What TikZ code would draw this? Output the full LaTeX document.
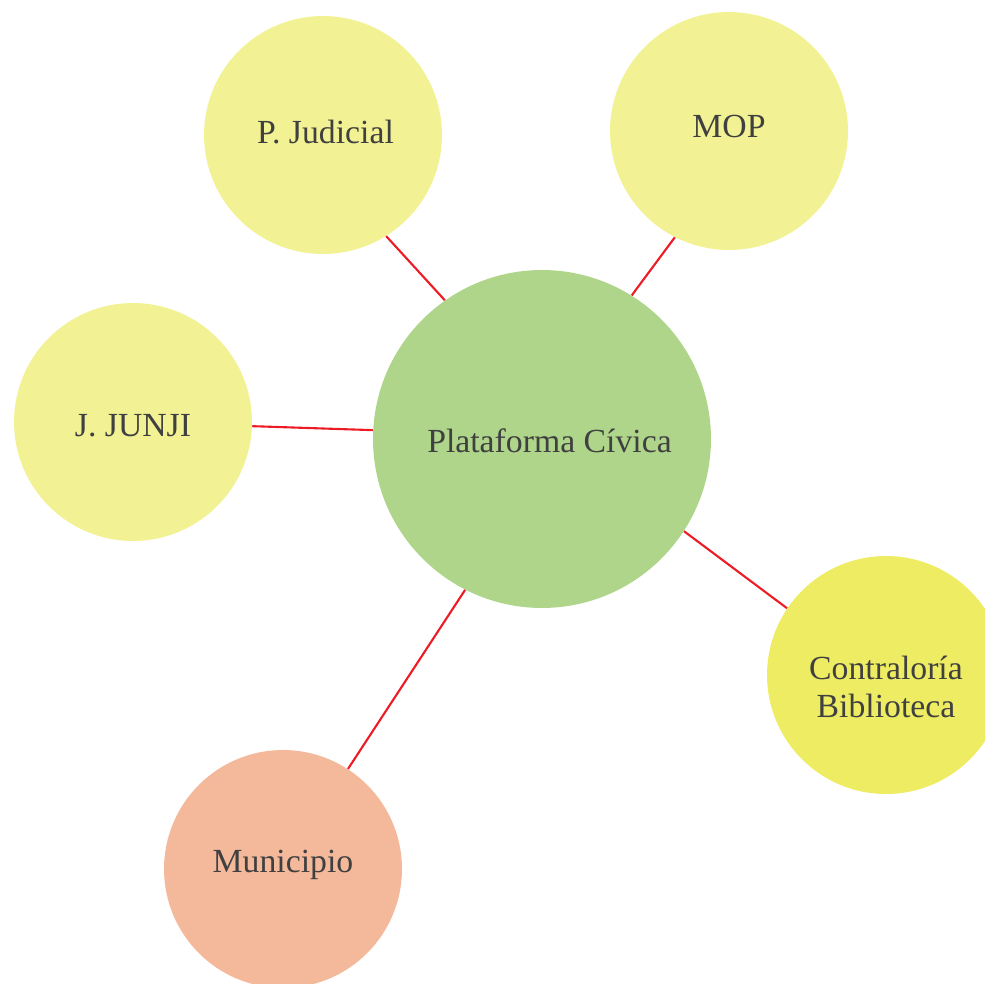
\documentclass[tikz,border=0pt]{standalone}
\usepackage{fontspec}
\setmainfont{Liberation Serif}
\usetikzlibrary{positioning}
\definecolor{paleyellow}{RGB}{242,242,148}
\definecolor{leaf}{RGB}{175,213,138}
\definecolor{lemon}{RGB}{237,236,98}
\definecolor{salmon}{RGB}{244,184,155}
\definecolor{ink}{RGB}{64,64,64}
\definecolor{wire}{RGB}{237,28,36}
\tikzset{
  bubble/.style={circle,fill=#1,minimum size=4.76cm,inner sep=0pt},
  bubble/.default=paleyellow,
  hub/.style={bubble=leaf,minimum size=6.76cm},
  caption/.style={align=center,text=ink,inner sep=0pt,
    font=\fontsize{19.2}{22}\selectfont},
  link/.style={draw=wire,line width=1.2pt},
}
\begin{document}
\begin{tikzpicture}[x=0.02cm,y=-0.02cm]
  \useasboundingbox (0,0) rectangle (985,984);
  \begin{scope}
    \clip (0,0) rectangle (985,984);
    \node[hub,label={[caption,xshift=0.15cm,yshift=-0.04cm]center:Plataforma Cívica}] (hub) at (542,439) {};
    \node[bubble,label={[caption,xshift=0.05cm,yshift=0.06cm]center:P. Judicial}] (judicial) at (323,135) {};
    \node[bubble,label={[caption,yshift=0.1cm]center:MOP}] (mop) at (729,131) {};
    \node[bubble,label={[caption,yshift=-0.08cm]center:J. JUNJI}] (junji) at (133,422) {};
    \node[bubble=lemon,label={[caption,yshift=-0.24cm]center:Contraloría\\Biblioteca}] (contra) at (886,675) {};
    \node[bubble=salmon,label={[caption,yshift=0.08cm]center:Municipio}] (muni) at (283,869) {};
    % spokes from the hub
    \draw[link] (hub.125.4) -- (judicial.302.8);
    \draw[link] (hub.58.1) -- (mop.243.6);
    \draw[link] (hub.177.6) -- (junji.358);
    \draw[link] (hub.327.5) -- (contra.146.6);
    \draw[link] (hub.243.3) -- (muni.57.1);
  \end{scope}
\end{tikzpicture}
\end{document}
